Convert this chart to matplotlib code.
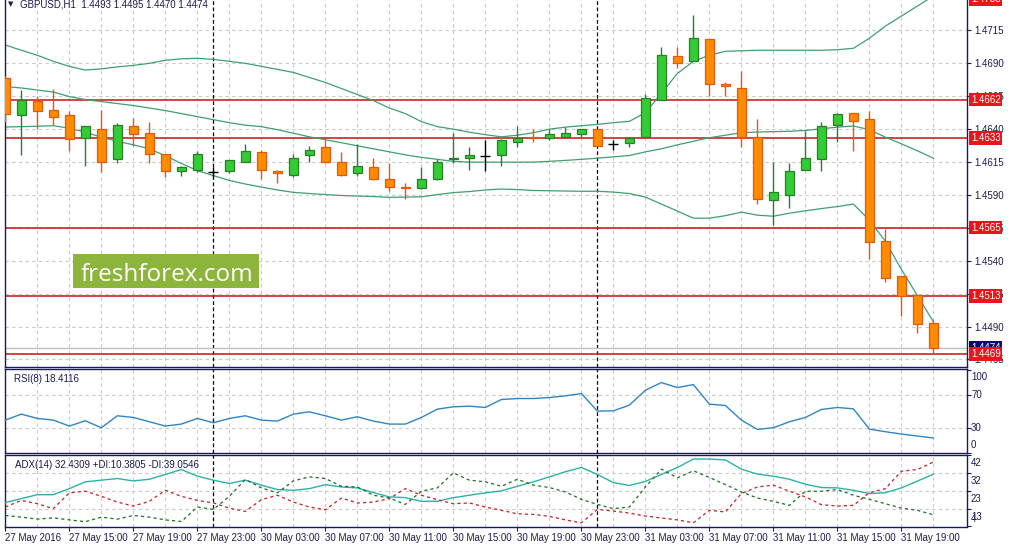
import matplotlib
matplotlib.use('Agg')
import matplotlib.pyplot as plt
from matplotlib.patches import Rectangle
import numpy as np
import pandas as pd

plt.rcParams['font.family'] = ['Liberation Sans', 'DejaVu Sans']

# ---------------- data ----------------
symbol_title = "GBPUSD,H1  1.4493 1.4495 1.4470 1.4474"
times = list(pd.date_range('2016-05-27 11:00', '2016-05-27 23:00', freq='h')) + \
        list(pd.date_range('2016-05-30 00:00', '2016-05-31 21:00', freq='h'))

opens = [1.4678, 1.4650, 1.4661, 1.4654, 1.4650, 1.4633, 1.4640, 1.4617, 1.4642, 1.4637,
         1.4621, 1.4608, 1.4609, 1.4607, 1.4608, 1.4615, 1.4622, 1.4608, 1.4605, 1.4620,
         1.4626, 1.4615, 1.4606, 1.4611, 1.4602, 1.4596, 1.4595, 1.4602, 1.4617, 1.4618,
         1.4619, 1.4620, 1.4630, 1.4634, 1.4633, 1.4634, 1.4636, 1.4640, 1.4628, 1.4629,
         1.4634, 1.4662, 1.4695, 1.4691, 1.4708, 1.4674, 1.4671, 1.4634, 1.4586, 1.4590,
         1.4609, 1.4617, 1.4643, 1.4652, 1.4647, 1.4555, 1.4528, 1.4514, 1.4493]
highs = [1.4680, 1.4669, 1.4665, 1.4670, 1.4653, 1.4642, 1.4654, 1.4644, 1.4648, 1.4645,
         1.4621, 1.4612, 1.4623, 1.4611, 1.4616, 1.4628, 1.4624, 1.4609, 1.4621, 1.4627,
         1.4631, 1.4622, 1.4628, 1.4618, 1.4614, 1.4599, 1.4611, 1.4617, 1.4637, 1.4626,
         1.4631, 1.4632, 1.4642, 1.4640, 1.4640, 1.4641, 1.4640, 1.4640, 1.4631, 1.4634,
         1.4666, 1.4702, 1.4702, 1.4726, 1.4708, 1.4675, 1.4684, 1.4647, 1.4615, 1.4614,
         1.4638, 1.4645, 1.4652, 1.4652, 1.4653, 1.4564, 1.4528, 1.4514, 1.4495]
lows = [1.4645, 1.4620, 1.4640, 1.4643, 1.4623, 1.4612, 1.4607, 1.4614, 1.4627, 1.4614,
        1.4603, 1.4604, 1.4607, 1.4603, 1.4606, 1.4615, 1.4602, 1.4599, 1.4603, 1.4615,
        1.4614, 1.4604, 1.4604, 1.4601, 1.4593, 1.4587, 1.4594, 1.4601, 1.4614, 1.4609,
        1.4608, 1.4612, 1.4626, 1.4630, 1.4631, 1.4634, 1.4634, 1.4627, 1.4624, 1.4626,
        1.4634, 1.4662, 1.4686, 1.4691, 1.4665, 1.4665, 1.4626, 1.4583, 1.4567, 1.4580,
        1.4609, 1.4608, 1.4630, 1.4623, 1.4541, 1.4524, 1.4498, 1.4485, 1.4470]
closes = [1.4651, 1.4662, 1.4653, 1.4649, 1.4632, 1.4642, 1.4615, 1.4643, 1.4636, 1.4621,
          1.4608, 1.4611, 1.4621, 1.4607, 1.4616, 1.4623, 1.4609, 1.4606, 1.4618, 1.4624,
          1.4615, 1.4605, 1.4612, 1.4602, 1.4596, 1.4595, 1.4602, 1.4615, 1.4618, 1.4620,
          1.4619, 1.4631, 1.4633, 1.4633, 1.4636, 1.4637, 1.4640, 1.4627, 1.4628, 1.4633,
          1.4663, 1.4696, 1.4690, 1.4709, 1.4674, 1.4672, 1.4634, 1.4587, 1.4592, 1.4608,
          1.4618, 1.4642, 1.4651, 1.4646, 1.4554, 1.4527, 1.4513, 1.4492, 1.4474]

bb_upper = [1.47034, 1.46994, 1.46956, 1.46910, 1.46872, 1.46844, 1.46853, 1.46868, 1.46879, 1.46895,
            1.46918, 1.46929, 1.46933, 1.46925, 1.46910, 1.46895, 1.46872, 1.46849, 1.46826, 1.46788,
            1.46750, 1.46704, 1.46658, 1.46613, 1.46556, 1.46514, 1.46453, 1.46415, 1.46396, 1.46373,
            1.46354, 1.46338, 1.46350, 1.46369, 1.46396, 1.46411, 1.46422, 1.46432, 1.46445, 1.46455,
            1.46521, 1.46666, 1.46818, 1.46910, 1.46956, 1.46986, 1.46990, 1.46994, 1.46994, 1.46994,
            1.46994, 1.46994, 1.46998, 1.47009, 1.47085, 1.47177, 1.47253, 1.47329, 1.47405]
bb_middle = [1.46719, 1.46708, 1.46693, 1.46677, 1.46643, 1.46620, 1.46605, 1.46590, 1.46575, 1.46556,
             1.46537, 1.46514, 1.46491, 1.46468, 1.46445, 1.46426, 1.46415, 1.46392, 1.46365, 1.46338,
             1.46316, 1.46293, 1.46270, 1.46247, 1.46224, 1.46201, 1.46182, 1.46167, 1.46152, 1.46146,
             1.46146, 1.46146, 1.46146, 1.46146, 1.46152, 1.46159, 1.46167, 1.46176, 1.46186, 1.46196,
             1.46224, 1.46247, 1.46277, 1.46304, 1.46331, 1.46350, 1.46369, 1.46374, 1.46377, 1.46380,
             1.46386, 1.46399, 1.46411, 1.46420, 1.46392, 1.46335, 1.46285, 1.46232, 1.46176]
bb_lower = [1.46412, 1.46415, 1.46418, 1.46422, 1.46403, 1.46373, 1.46335, 1.46304, 1.46277, 1.46247,
            1.46194, 1.46136, 1.46082, 1.46044, 1.46007, 1.45980, 1.45957, 1.45935, 1.45917, 1.45908,
            1.45900, 1.45893, 1.45889, 1.45885, 1.45879, 1.45881, 1.45883, 1.45900, 1.45915, 1.45923,
            1.45935, 1.45942, 1.45938, 1.45931, 1.45929, 1.45927, 1.45925, 1.45925, 1.45919, 1.45908,
            1.45881, 1.45828, 1.45775, 1.45721, 1.45721, 1.45740, 1.45767, 1.45744, 1.45736, 1.45759,
            1.45777, 1.45794, 1.45809, 1.45828, 1.45706, 1.45546, 1.45333, 1.45134, 1.44936]

rsi = [40.0, 47.2, 42.0, 40.0, 32.8, 39.2, 30.8, 45.2, 43.2, 38.0,
       32.8, 35.2, 42.0, 36.8, 42.0, 45.2, 40.0, 38.8, 47.2, 50.0,
       45.2, 40.0, 44.0, 38.8, 35.2, 35.2, 43.2, 53.2, 56.0, 56.8,
       55.2, 64.8, 66.0, 66.0, 67.2, 69.2, 72.0, 50.8, 51.2, 58.0,
       76.0, 85.2, 79.2, 82.8, 59.2, 57.6, 40.0, 28.8, 30.8, 38.0,
       43.2, 52.8, 55.2, 53.6, 29.2, 26.0, 23.2, 20.8, 18.4]
adx = [17.0, 19.2, 21.3, 21.3, 24.6, 28.3, 29.2, 30.1, 28.8, 29.7,
       32.3, 35.0, 31.4, 29.2, 27.4, 29.2, 26.5, 24.1, 23.7, 24.6,
       26.8, 25.5, 25.0, 22.4, 20.1, 19.7, 17.7, 17.7, 19.7, 21.0,
       22.3, 23.4, 25.9, 28.3, 31.0, 33.8, 36.1, 32.3, 27.9, 26.3,
       28.5, 32.3, 36.1, 40.7, 40.7, 40.2, 35.2, 32.5, 31.4, 29.7,
       27.0, 25.2, 25.0, 23.7, 21.9, 22.4, 25.0, 28.7, 32.43]
di_plus = [10.0, 9.1, 8.0, 8.7, 7.6, 6.6, 9.1, 8.0, 10.0, 9.1,
           7.6, 6.7, 14.6, 13.3, 20.4, 29.6, 25.0, 22.3, 28.8, 31.0,
           30.1, 25.9, 25.5, 21.0, 19.5, 16.0, 23.2, 25.0, 33.2, 29.2,
           28.3, 25.9, 29.7, 26.5, 25.2, 22.8, 18.8, 16.0, 13.7, 14.6,
           25.5, 35.2, 30.5, 34.3, 30.7, 26.8, 22.8, 19.5, 17.7, 15.5,
           23.2, 23.2, 24.1, 21.0, 18.8, 16.4, 14.0, 12.8, 10.38]
di_minus = [14.6, 18.2, 16.4, 13.7, 22.3, 23.2, 20.4, 17.3, 15.1, 17.7,
            23.7, 20.4, 18.2, 16.8, 14.0, 12.2, 18.6, 21.0, 17.3, 14.6,
            13.1, 19.5, 16.8, 17.3, 19.2, 24.6, 21.0, 18.6, 16.4, 16.8,
            14.6, 12.8, 10.9, 10.6, 9.5, 7.6, 6.0, 13.3, 12.4, 11.3,
            9.7, 8.6, 7.6, 6.0, 12.8, 11.9, 21.9, 25.5, 26.5, 23.2,
            20.1, 15.9, 15.1, 15.5, 22.4, 24.6, 34.1, 35.0, 39.05]

red_levels = [1.4738, 1.4662, 1.4633, 1.4565, 1.4513, 1.4469]
bid_price = 1.4474
price_ticks = [1.4715, 1.4690, 1.4665, 1.4640, 1.4615, 1.4590, 1.4565, 1.4540, 1.4515, 1.4490, 1.4465]
rsi_levels = [100, 70, 30, 0]
adx_levels = [42.9, 33.2, 23.45, 13.7, 4.0]
adx_level_labels = ['42', '32', '23', '13', '4']
rsi_title = "RSI(8) 18.4116"
adx_title = "ADX(14) 32.4309 +DI:10.3805 -DI:39.0546"
watermark = "freshforex.com"

# ---------------- figure ----------------
W, H = 1009, 547
fig = plt.figure(figsize=(W / 100, H / 100), dpi=100)
fig.patch.set_facecolor('white')


def rect(l, t, r, b):
    return [l / W, 1 - b / H, (r - l) / W, (b - t) / H]


ax = fig.add_axes(rect(4.7, 0, 967, 367))
ax_rsi = fig.add_axes(rect(4.7, 369.3, 967, 453.3), sharex=ax)
ax_adx = fig.add_axes(rect(4.7, 455, 967, 526.5), sharex=ax)

TXT = '#1b1b4f'
GRID = '#c9c9c9'
SPINE = '#1a1a5e'
idx = np.arange(len(opens))
o = np.array(opens); h = np.array(highs); l = np.array(lows); c = np.array(closes)

day_breaks = [i for i in range(1, len(times)) if times[i].date() != times[i - 1].date()]
label_bars = list(range(0, len(times), 4))
label_texts = [times[i].strftime('%d %b %Y') if i == 0 else times[i].strftime('%d %b %H:%M')
               for i in label_bars]

for a in (ax, ax_rsi, ax_adx):
    a.set_facecolor('white')
    for s in a.spines.values():
        s.set_color(SPINE)
        s.set_linewidth(1.0)
    for g in range(0, 60, 2):
        a.axvline(g, color=GRID, lw=0.8, ls=(0, (3, 3)), zorder=0.5)
    for d in day_breaks:
        a.axvline(d, color='#000020', lw=0.9, ls=(0, (3, 2)), zorder=1)
    a.yaxis.tick_right()
    a.tick_params(axis='y', direction='out', length=3, width=0.8, colors=SPINE,
                  labelcolor=TXT, labelsize=7, pad=2.2)
    a.tick_params(axis='x', bottom=False, labelbottom=False)
ax.spines['top'].set_visible(False)

ax.set_xlim(-0.04, 60.1)

# ---- main panel ----
ax.set_ylim(1.44593, 1.47375)
ax.set_yticks(price_ticks)
ax.set_yticklabels([f'{p:.4f}' for p in price_ticks])
for p in price_ticks:
    ax.axhline(p, color=GRID, lw=0.8, ls=(0, (3, 3)), zorder=0.5)

ax.axhline(bid_price, color='#c0c0c0', lw=1, zorder=1.2)
for lv in red_levels:
    ax.axhline(lv, color='#cc1010', lw=1.1, zorder=1.3)

bb_col = '#3f9f72'
ax.plot(idx, bb_upper, color=bb_col, lw=0.9, zorder=2)
ax.plot(idx, bb_middle, color=bb_col, lw=0.9, zorder=2)
ax.plot(idx, bb_lower, color=bb_col, lw=0.9, zorder=2)

bull = c > o + 1e-6
bear = c < o - 1e-6
doji = ~(bull | bear)
BULL_F, BULL_E = '#33cc33', '#2a7d2a'
BEAR_F, BEAR_E = '#ff8c00', '#e05a10'
ax.vlines(idx[bull], l[bull], h[bull], color=BULL_E, lw=1, zorder=3)
ax.vlines(idx[bear], l[bear], h[bear], color=BEAR_E, lw=1, zorder=3)
ax.bar(idx[bull], (c - o)[bull], bottom=o[bull], width=0.6, color=BULL_F,
       edgecolor=BULL_E, linewidth=0.9, zorder=4)
ax.bar(idx[bear], (o - c)[bear], bottom=c[bear], width=0.6, color=BEAR_F,
       edgecolor=BEAR_E, linewidth=0.9, zorder=4)
ax.vlines(idx[doji], l[doji], h[doji], color='black', lw=1, zorder=4)
ax.hlines(o[doji], idx[doji] - 0.32, idx[doji] + 0.32, color='black', lw=1, zorder=4)


def price_label(a, y, text, fc, z):
    a.annotate(text, xy=(1, y), xycoords=a.get_yaxis_transform(), xytext=(4, 0),
               textcoords='offset pixels', ha='left', va='center', color='white',
               fontsize=7, bbox=dict(boxstyle='square,pad=0.18', fc=fc, ec='none'),
               annotation_clip=False, zorder=z)


price_label(ax, bid_price, f'{bid_price:.4f}', '#0a0a6e', 9)
for lv in red_levels:
    price_label(ax, lv, f'{lv:.4f}', '#e8161b', 10)

fig.text(8 / W, 1 - 4.5 / H, '\u25bc', fontsize=5, color=TXT, va='center', ha='left',
         family=['DejaVu Sans'])
fig.text(20.5 / W, 1 - 4.5 / H, symbol_title, fontsize=7, color=TXT, va='center', ha='left')

# watermark
fig.patches.append(Rectangle((73.3 / W, 1 - 288.3 / H), 186 / W, 34.3 / H,
                             transform=fig.transFigure, fc='#8db43b', ec='none', zorder=5))
fig.text(167.3 / W, 1 - 281 / H, watermark, ha='center', va='baseline', fontsize=17.5,
         family=['Open Sans', 'DejaVu Sans'], color='white', zorder=6)

# ---- RSI ----
ax_rsi.set_ylim(0, 101.2)
ax_rsi.set_yticks(rsi_levels)
ax_rsi.tick_params(axis='y', labelright=False)
for lv in (70, 30):
    ax_rsi.axhline(lv, color=GRID, lw=0.8, ls=(0, (3, 3)), zorder=0.5)
ax_rsi.plot(idx, rsi, color='#2f86c6', lw=1, zorder=3)
for lv in rsi_levels:
    va = 'top' if lv == 100 else ('bottom' if lv == 0 else 'center')
    dy = -2 if lv == 100 else (3 if lv == 0 else 0)
    ax_rsi.annotate(str(lv), xy=(1, lv), xycoords=ax_rsi.get_yaxis_transform(),
                    xytext=(4, dy), textcoords='offset pixels', ha='left', va=va,
                    fontsize=7, color=TXT, annotation_clip=False)
ax_rsi.text(9 / (967 - 4.7), 0.89, rsi_title, transform=ax_rsi.transAxes, fontsize=7,
            color=TXT, va='center', ha='left')

# ---- ADX ----
ax_adx.set_ylim(4.0, 42.9)
ax_adx.set_yticks(adx_levels)
ax_adx.tick_params(axis='y', labelright=False)
for lv in adx_levels[1:-1]:
    ax_adx.axhline(lv, color=GRID, lw=0.8, ls=(0, (3, 3)), zorder=0.5)
ax_adx.plot(idx, adx, color='#2ab3aa', lw=1, zorder=3)
ax_adx.plot(idx, di_plus, color='#1f6e1f', lw=0.9, ls=(0, (2.5, 2.5)), zorder=3)
ax_adx.plot(idx, di_minus, color='#c42020', lw=0.9, ls=(0, (2.5, 2.5)), zorder=3)
for lv, lab in zip(adx_levels, adx_level_labels):
    if lab == '4':
        ax_adx.annotate(lab, xy=(1, lv), xycoords=ax_adx.get_yaxis_transform(),
                        xytext=(4, 2), textcoords='offset pixels', ha='left', va='bottom',
                        fontsize=7, color=TXT, annotation_clip=False)
    else:
        ax_adx.annotate(lab, xy=(1, lv), xycoords=ax_adx.get_yaxis_transform(),
                        xytext=(4, -3), textcoords='offset pixels', ha='left', va='top',
                        fontsize=7, color=TXT, annotation_clip=False)
ax_adx.text(10 / (967 - 4.7), 0.86, adx_title, transform=ax_adx.transAxes, fontsize=7,
            color=TXT, va='center', ha='left')

ax_adx.tick_params(axis='x', bottom=True, labelbottom=True, direction='out', length=3,
                   width=0.8, colors=SPINE, labelcolor=TXT, labelsize=7, pad=2)
ax_adx.set_xticks(label_bars)
ax_adx.set_xticklabels(label_texts, ha='left')
ax_adx.set_xlim(-0.04, 60.1)

fig.savefig('out.png', dpi=100, facecolor='white')
